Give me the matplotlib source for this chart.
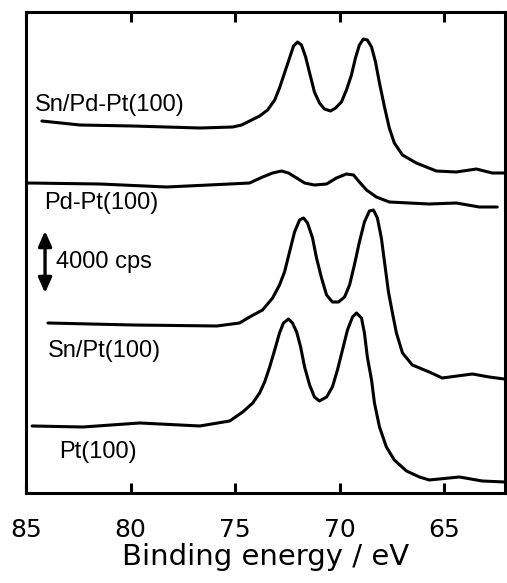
import numpy as np
from matplotlib import pyplot as plt

# binding energy (eV) and intensity (a.u., offset spectra)
sn_pdpt_x = [84.24, 82.42, 79.89, 76.69, 75.12, 74.69, 74.31, 73.83, 73.45, 73.11, 72.88, 72.64, 72.40, 72.21,
             72.02, 71.83, 71.63, 71.44, 71.21, 70.97, 70.73, 70.44, 70.20, 69.92, 69.68, 69.44, 69.25, 69.06,
             68.87, 68.68, 68.48, 68.29, 68.10, 67.86, 67.63, 67.39, 67.00, 66.34, 65.38, 64.43, 63.47, 62.71,
             62.14]
sn_pdpt_y = [372, 368, 367, 365, 366, 368, 372, 377, 383, 393, 405, 420, 435, 447,
             451, 448, 436, 420, 401, 390, 384, 382, 385, 391, 403, 418, 435, 448,
             454, 453, 446, 431, 410, 386, 365, 350, 338, 330, 322, 321, 324, 320,
             320]

pdpt_x = [84.90, 81.47, 78.27, 75.26, 74.31, 73.69, 73.21, 72.78, 72.45, 72.06, 71.68, 71.21, 70.63, 70.16,
          69.68, 69.34, 69.06, 68.72, 68.25, 67.63, 65.72, 64.43, 63.33, 62.47]
pdpt_y = [310, 309, 306, 309, 310, 316, 320, 322, 320, 315, 310, 308, 309, 315,
          319, 318, 311, 303, 296, 291, 289, 290, 286, 286]

snpt_x = [83.95, 79.89, 75.88, 74.79, 74.31, 73.69, 73.21, 72.88, 72.64, 72.40, 72.16, 71.92, 71.73, 71.54,
          71.30, 71.11, 70.87, 70.63, 70.35, 70.06, 69.77, 69.53, 69.30, 69.06, 68.82, 68.58, 68.39, 68.20,
          68.01, 67.86, 67.67, 67.48, 67.29, 67.00, 66.53, 65.72, 65.10, 63.66, 62.85, 62.14]
snpt_y = [170, 168, 167, 170, 176, 183, 195, 208, 221, 241, 261, 273, 275, 270,
          255, 235, 215, 198, 191, 191, 196, 208, 228, 251, 271, 282, 283, 275,
          255, 231, 201, 180, 160, 140, 128, 121, 115, 119, 116, 114]

pt_x = [84.71, 82.28, 79.56, 76.69, 75.26, 74.64, 74.16, 73.83, 73.59, 73.35, 73.11, 72.88, 72.69,
        72.45, 72.26, 72.06, 71.87, 71.68, 71.44, 71.21, 70.97, 70.63, 70.35, 70.11, 69.87, 69.63, 69.39,
        69.20, 68.96, 68.82, 68.68, 68.48, 68.34, 68.10, 67.77, 67.39, 66.81, 66.19, 65.72, 64.28, 63.19,
        62.14]
pt_y = [67, 66, 70, 67, 72, 81, 90, 100, 111, 126, 143, 160, 170,
        174, 170, 161, 146, 126, 108, 96, 92, 96, 106, 123, 143, 163, 176,
        180, 175, 160, 136, 113, 90, 66, 46, 33, 22, 16, 13, 16, 12,
        11]

labels = ['Sn/Pd-Pt(100)', 'Pd-Pt(100)', 'Sn/Pt(100)', 'Pt(100)']
label_x = [84.57, 84.14, 83.95, 83.42]
label_y = [388, 290, 142, 41]

xticks = [85, 80, 75, 70, 65]

fig = plt.figure(figsize=(5.07, 5.83), dpi=100)
ax = fig.add_axes([0.0513, 0.1544, 0.9447, 0.825])

for xs, ys in [(sn_pdpt_x, sn_pdpt_y), (pdpt_x, pdpt_y), (snpt_x, snpt_y), (pt_x, pt_y)]:
    ax.plot(xs, ys, color='k', lw=2.2, solid_joinstyle='round', solid_capstyle='round')

for lab, lx, ly in zip(labels, label_x, label_y):
    ax.text(lx, ly, lab, ha='left', va='center', fontsize=17, family='Liberation Sans')

# scale bar
ax.annotate('', xy=(84.09, 262), xytext=(84.09, 200),
            arrowprops=dict(arrowstyle='<|-|>,head_length=0.9,head_width=0.4', lw=2.4, color='k',
                            shrinkA=0, shrinkB=0))
ax.text(83.57, 231, '4000 cps', ha='left', va='center', fontsize=17, family='Liberation Sans')

ax.set_xlim(85, 62.1)
ax.set_ylim(0, 481)
ax.set_xticks(xticks)
ax.set_yticks([])
ax.tick_params(axis='x', direction='in', top=True, length=7, width=2.2, pad=18,
               labelsize=18)
for sp in ax.spines.values():
    sp.set_linewidth(2.2)
ax.set_xlabel('Binding energy / eV', fontsize=21, labelpad=1)

plt.savefig('out.png', dpi=100)
